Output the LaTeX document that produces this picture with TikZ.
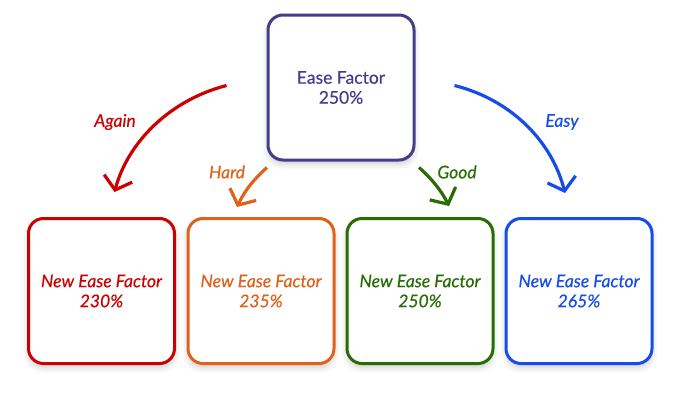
\documentclass[tikz,border=0pt]{standalone}
\usepackage{fontspec}
\setmainfont{Lato}[FakeBold=0.35]
\usepackage{tikz}
\usetikzlibrary{arrows.meta,shadows.blur}

\definecolor{easepurple}{RGB}{67,62,140}
\definecolor{againred}{RGB}{204,0,0}
\definecolor{hardorange}{RGB}{224,98,26}
\definecolor{goodgreen}{RGB}{40,108,4}
\definecolor{easyblue}{RGB}{22,76,238}

\begin{document}
\begin{tikzpicture}[x=1pt,y=-1pt,
    card/.style={draw=#1,text=#1,line width=3pt,rounded corners=15pt,fill=white,
      minimum width=146pt,minimum height=145pt,align=center,
      font=\fontsize{17.5}{20}\selectfont,
      blur shadow={shadow xshift=0pt,shadow yshift=-4pt,shadow blur radius=6pt,shadow opacity=20}},
    newcard/.style={card=#1,font=\fontsize{17.5}{20}\selectfont\itshape},
    ans/.style={draw=#1,line width=3.2pt,-{Straight Barb[length=12pt,width=29pt]}},
    anslabel/.style={text=#1,font=\fontsize{17.5}{20}\selectfont\itshape}]
  \useasboundingbox (0,0) rectangle (681,400);
  \node[card=easepurple] (ease) at (341,87.5) {Ease Factor\\250\%};
  \node[newcard=againred] (again) at (101.5,291) {New Ease Factor\\230\%};
  \node[newcard=hardorange] (hard) at (261,291) {New Ease Factor\\235\%};
  \node[newcard=goodgreen] (good) at (420,291) {New Ease Factor\\250\%};
  \node[newcard=easyblue] (easy) at (579,291) {New Ease Factor\\265\%};
  \draw[ans=againred] ([xshift=-40pt,yshift=2pt]ease.west)
    .. controls (170,100) and (128,142) .. ([xshift=13pt,yshift=25pt]again.north);
  \draw[ans=hardorange] ([xshift=-74pt,yshift=-6pt]ease.south)
    .. controls (255,178) and (245,190) .. ([xshift=-24pt,yshift=10pt]hard.north);
  \draw[ans=goodgreen] ([xshift=78pt,yshift=-6pt]ease.south)
    .. controls (431,178) and (441,190) .. ([xshift=29pt,yshift=11pt]good.north);
  \draw[ans=easyblue] ([xshift=39pt,yshift=2pt]ease.east)
    .. controls (512,100) and (552,142) .. ([xshift=-14pt,yshift=24pt]easy.north);
  \node[anslabel=againred] (againlabel) at (115,122) {Again};
  \node[anslabel=hardorange] (hardlabel) at (227,172) {Hard};
  \node[anslabel=goodgreen] (goodlabel) at (457,172) {Good};
  \node[anslabel=easyblue] (easylabel) at (562,122) {Easy};
\end{tikzpicture}
\end{document}
